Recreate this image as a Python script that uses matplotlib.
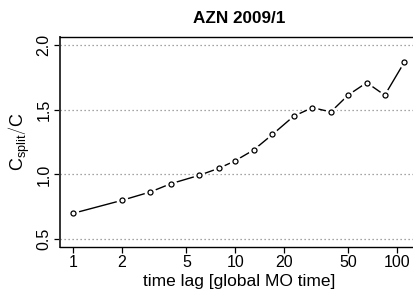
import matplotlib
matplotlib.use("Agg")
import matplotlib.pyplot as plt
import numpy as np
from matplotlib.ticker import FixedLocator, NullLocator, FixedFormatter

plt.rcParams['font.family'] = ['Liberation Sans', 'DejaVu Sans']
plt.rcParams['mathtext.fontset'] = 'custom'
plt.rcParams['mathtext.rm'] = 'Liberation Sans'
plt.rcParams['mathtext.it'] = 'Liberation Sans'

title = "AZN 2009/1"
x_label = "time lag [global MO time]"
y_label = r"$\mathrm{C_{split}}\left/\mathrm{C_{\,}}\right.$"

lags = [1, 2, 3, 4, 6, 8, 10, 13, 17, 23, 30, 39, 50, 65, 84, 111]
ratio = [0.70, 0.80, 0.865, 0.928, 0.993, 1.049, 1.105, 1.188, 1.308, 1.449,
         1.515, 1.482, 1.613, 1.708, 1.611, 1.866]

x_ticks = [1, 2, 5, 10, 20, 50, 100]
x_tick_labels = ["1", "2", "5", "10", "20", "50", "100"]
y_ticks = [0.5, 1.0, 1.5, 2.0]
y_tick_labels = ["0.5", "1.0", "1.5", "2.0"]

W, H = 413, 290
fig = plt.figure(figsize=(W / 100, H / 100), dpi=100)
left, right, top, bottom = 60, 417.6, 37, 247
ax = fig.add_axes([left / W, 1 - bottom / H, (right - left) / W, (bottom - top) / H])

ax.set_xscale('log')
lx0, lx1 = np.log10(min(lags)), np.log10(max(lags))
pad = 0.04 * (lx1 - lx0)
ax.set_xlim(10 ** (lx0 - pad), 10 ** (lx1 + pad))
ax.set_ylim(0.5 - 0.06, 2.0 + 0.06)

for yv in y_ticks:
    ax.axhline(yv, color='#888888', lw=0.9, ls=(0, (1, 2.2)), zorder=1)

ax.plot(lags, ratio, color='black', lw=1.0, zorder=2)
ax.plot(lags, ratio, ls='none', marker='o', ms=7.5, mfc='white', mec='white', zorder=3)
ax.plot(lags, ratio, ls='none', marker='o', ms=3.6, mfc='white', mec='black', mew=0.9, zorder=4)

ax.xaxis.set_major_locator(FixedLocator(x_ticks))
ax.xaxis.set_major_formatter(FixedFormatter(x_tick_labels))
ax.xaxis.set_minor_locator(NullLocator())
ax.set_yticks(y_ticks)
ax.set_yticklabels(y_tick_labels, rotation=90, va='center')

ax.tick_params(axis='both', direction='out', length=4, width=0.9, color='black',
               labelsize=11.5, pad=2)
ax.tick_params(axis='x', pad=1.5)

ax.spines['right'].set_visible(False)
for s in ['left', 'top', 'bottom']:
    ax.spines[s].set_linewidth(1.0)
ax.spines['left'].set_linewidth(1.4)
ax.spines['left'].set_color('#333333')

ax.set_title(title, fontsize=12.3, fontweight='bold', pad=10)
ax.set_xlabel(x_label, fontsize=12.5, labelpad=3)
ax.set_ylabel(y_label, fontsize=13, labelpad=3)

fig.savefig('out.png', dpi=100)
